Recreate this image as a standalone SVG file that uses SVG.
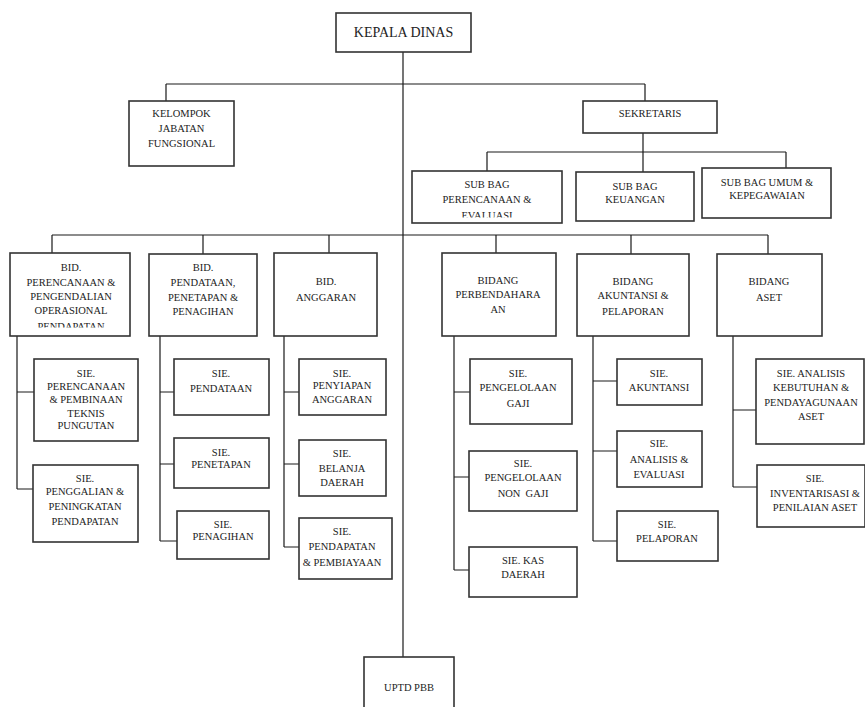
<svg xmlns="http://www.w3.org/2000/svg" width="865" height="707" viewBox="0 0 865 707" font-family="'Liberation Serif', 'DejaVu Serif', serif">
<style>
.box{fill:#fff;stroke:#333;stroke-width:1.6}
.ln{fill:none;stroke:#1a1a1a;stroke-width:1.2}
text{font-family:'Liberation Serif','DejaVu Serif',serif;font-size:10.5px;fill:#222;text-anchor:middle}
.big{font-size:14px}
</style>
<defs>
<clipPath id="c1"><rect x="412" y="171" width="150" height="46.5"/></clipPath>
<clipPath id="c2"><rect x="10" y="253" width="120" height="74.5"/></clipPath>
</defs>
<rect width="865" height="707" fill="#fff"/>
<g id="connectors">
<path class="ln" d="M403 52V657"/>
<path class="ln" d="M166 84H645M166 84V101M645 84V101"/>
<path class="ln" d="M643 133V152M487 152H786M487 152V171M643 152V172M786 152V168"/>
<path class="ln" d="M52 235H768M52 235V253M203 235V254M329 235V253M496 235V253M631 235V254M768 235V254"/>
<path class="ln" d="M17 336V489M17 392H34M17 489H33"/>
<path class="ln" d="M160 336V541M160 392H174M160 464H174M160 541H177"/>
<path class="ln" d="M284 336V547M284 392H299M284 464H299M284 547H299"/>
<path class="ln" d="M454 336V570M454 392H470M454 477H469M454 570H469"/>
<path class="ln" d="M593 336V541M593 381H617M593 451H617M593 541H617"/>
<path class="ln" d="M733 334V487M733 410H756M733 487H757"/>
</g>
<g id="kepala"><rect class="box" x="336" y="13" width="135" height="39"/><text class="big" x="403.5" y="37">KEPALA DINAS</text></g>
<g id="kelompok"><rect class="box" x="129" y="101" width="105" height="65"/><text x="181.5" y="117">KELOMPOK</text><text x="181.5" y="132">JABATAN</text><text x="181.5" y="147">FUNGSIONAL</text></g>
<g id="sekretaris"><rect class="box" x="583" y="101" width="134" height="32"/><text x="650" y="117">SEKRETARIS</text></g>
<g id="subbag-perencanaan"><rect class="box" x="412" y="171" width="150" height="52"/><g clip-path="url(#c1)"><text x="487" y="188">SUB BAG</text><text x="487" y="203">PERENCANAAN &amp;</text><text x="487" y="219">EVALUASI</text></g></g>
<g id="subbag-keuangan"><rect class="box" x="576" y="172" width="118" height="49"/><text x="635" y="190">SUB BAG</text><text x="635" y="203">KEUANGAN</text></g>
<g id="subbag-umum"><rect class="box" x="702" y="168" width="129" height="50"/><text x="767" y="186">SUB BAG UMUM &amp;</text><text x="767" y="199">KEPEGAWAIAN</text></g>
<g id="bid-perencanaan"><rect class="box" x="10" y="253" width="120" height="83"/><g clip-path="url(#c2)"><text x="71" y="271">BID.</text><text x="71" y="286">PERENCANAAN &amp;</text><text x="71" y="300">PENGENDALIAN</text><text x="71" y="314">OPERASIONAL</text><text x="71" y="330">PENDAPATAN</text></g></g>
<g id="bid-pendataan"><rect class="box" x="149" y="254" width="108" height="82"/><text x="203" y="271">BID.</text><text x="203" y="286">PENDATAAN,</text><text x="203" y="301">PENETAPAN &amp;</text><text x="203" y="315">PENAGIHAN</text></g>
<g id="bid-anggaran"><rect class="box" x="274" y="253" width="103" height="83"/><text x="326" y="285">BID.</text><text x="326" y="301">ANGGARAN</text></g>
<g id="bid-perbendaharaan"><rect class="box" x="442" y="253" width="114" height="83"/><text x="498" y="284">BIDANG</text><text x="498" y="298">PERBENDAHARA</text><text x="498" y="313">AN</text></g>
<g id="bid-akuntansi"><rect class="box" x="577" y="254" width="112" height="82"/><text x="633" y="285">BIDANG</text><text x="633" y="299">AKUNTANSI &amp;</text><text x="633" y="315">PELAPORAN</text></g>
<g id="bid-aset"><rect class="box" x="717" y="254" width="105" height="82"/><text x="769" y="285">BIDANG</text><text x="769" y="301">ASET</text></g>
<g id="sie-perencanaan"><rect class="box" x="34" y="359" width="104" height="82"/><text x="86" y="377">SIE.</text><text x="86" y="390">PERENCANAAN</text><text x="86" y="403">&amp; PEMBINAAN</text><text x="86" y="417">TEKNIS</text><text x="86" y="429">PUNGUTAN</text></g>
<g id="sie-penggalian"><rect class="box" x="33" y="465" width="105" height="77"/><text x="85" y="482">SIE.</text><text x="85" y="495">PENGGALIAN &amp;</text><text x="85" y="510">PENINGKATAN</text><text x="85" y="525">PENDAPATAN</text></g>
<g id="sie-pendataan"><rect class="box" x="174" y="359" width="95" height="56"/><text x="221" y="377">SIE.</text><text x="221" y="392">PENDATAAN</text></g>
<g id="sie-penetapan"><rect class="box" x="174" y="438" width="95" height="50"/><text x="221" y="456">SIE.</text><text x="221" y="468">PENETAPAN</text></g>
<g id="sie-penagihan"><rect class="box" x="177" y="511" width="92" height="48"/><text x="223" y="528">SIE.</text><text x="223" y="540">PENAGIHAN</text></g>
<g id="sie-penyiapan"><rect class="box" x="299" y="359" width="87" height="56"/><text x="342" y="377">SIE.</text><text x="342" y="389">PENYIAPAN</text><text x="342" y="403">ANGGARAN</text></g>
<g id="sie-belanja"><rect class="box" x="299" y="440" width="87" height="56"/><text x="342" y="457">SIE.</text><text x="342" y="472">BELANJA</text><text x="342" y="486">DAERAH</text></g>
<g id="sie-pendapatan"><rect class="box" x="299" y="518" width="93" height="61"/><text x="342" y="535">SIE.</text><text x="342" y="550">PENDAPATAN</text><text x="342" y="566">&amp; PEMBIAYAAN</text></g>
<g id="sie-gaji"><rect class="box" x="470" y="359" width="102" height="65"/><text x="518" y="377">SIE.</text><text x="518" y="391">PENGELOLAAN</text><text x="518" y="407">GAJI</text></g>
<g id="sie-nongaji"><rect class="box" x="469" y="451" width="108" height="60"/><text x="523" y="467">SIE.</text><text x="523" y="481">PENGELOLAAN</text><text x="523" y="497" xml:space="preserve">NON  GAJI</text></g>
<g id="sie-kas"><rect class="box" x="469" y="547" width="108" height="50"/><text x="523" y="564">SIE. KAS</text><text x="523" y="578">DAERAH</text></g>
<g id="sie-akuntansi"><rect class="box" x="617" y="359" width="85" height="46"/><text x="659" y="377">SIE.</text><text x="659" y="391">AKUNTANSI</text></g>
<g id="sie-analisis-evaluasi"><rect class="box" x="617" y="431" width="85" height="56"/><text x="659" y="447">SIE.</text><text x="659" y="463">ANALISIS &amp;</text><text x="659" y="478">EVALUASI</text></g>
<g id="sie-pelaporan"><rect class="box" x="617" y="511" width="101" height="50"/><text x="667" y="528">SIE.</text><text x="667" y="542">PELAPORAN</text></g>
<g id="sie-analisis-kebutuhan"><rect class="box" x="756" y="359" width="108" height="85"/><text x="811" y="377">SIE. ANALISIS</text><text x="811" y="391">KEBUTUHAN &amp;</text><text x="811" y="406">PENDAYAGUNAAN</text><text x="811" y="420">ASET</text></g>
<g id="sie-inventarisasi"><rect class="box" x="757" y="465" width="108" height="62"/><text x="815" y="482">SIE.</text><text x="815" y="497">INVENTARISASI &amp;</text><text x="815" y="511">PENILAIAN ASET</text></g>
<g id="uptd"><rect class="box" x="364" y="657" width="90" height="60"/><text x="409" y="691">UPTD PBB</text></g>
</svg>
